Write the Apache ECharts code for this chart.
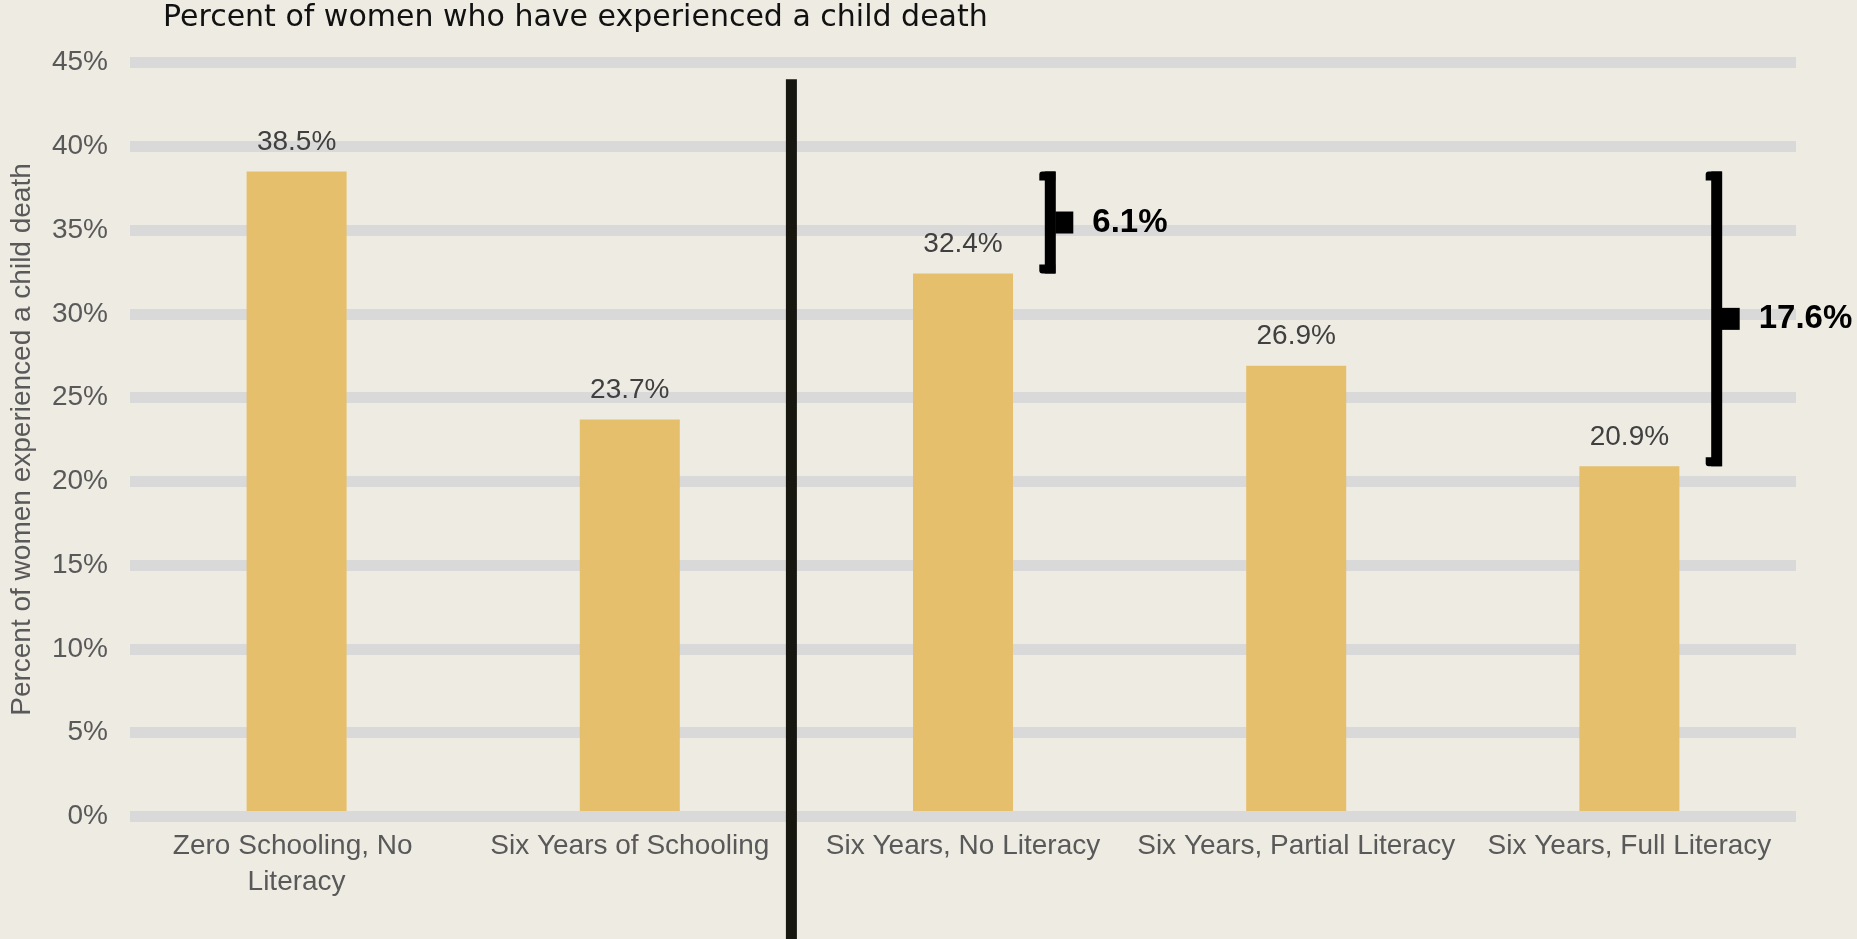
<!DOCTYPE html>
<html>
<head>
<meta charset="utf-8">
<title>Percent of women who have experienced a child death</title>
<script src="https://cdn.jsdelivr.net/npm/echarts@6/dist/echarts.min.js"></script>
<style>
  html, body { margin: 0; padding: 0; background: #EEEBE3; }
  #chart { width: 1857px; height: 939px; }
</style>
</head>
<body>
<div id="chart"></div>
<script>
// Schooling / literacy groups and the share of women who lost a child
const categories = [
  'Zero Schooling, No Literacy',
  'Six Years of Schooling',
  'Six Years, No Literacy',
  'Six Years, Partial Literacy',
  'Six Years, Full Literacy'
];
const childDeathPct = [38.5, 23.7, 32.4, 26.9, 20.9];

// Y axis range (percent)
const yMin = 0;
const yMax = 45;
const yStep = 5;

// Divider between the schooling groups and the literacy groups
const dividerAfterIndex = 1;
const dividerTopPct = 44;

// Gap brackets: [reference group, compared group]
const gapPairs = [[0, 2], [0, 4]];

const labelGrey = '#595959';
const barColor = '#E5BF6B';
const gridGrey = '#D9D9D9';

const bracketData = gapPairs.map(([from, to]) => [to, childDeathPct[from], childDeathPct[to]]);

const chart = echarts.init(document.getElementById('chart'));

chart.setOption({
  backgroundColor: '#EEEBE3',
  animation: false,
  title: {
    text: 'Percent of women who have experienced a child death',
    left: 163,
    top: 3,
    padding: 0,
    textStyle: {
      fontFamily: 'DejaVu Sans',
      fontSize: 30,
      fontWeight: 'normal',
      color: '#111111'
    }
  },
  grid: { left: 128, right: 61, top: 62.5, bottom: 122.5 },
  xAxis: {
    type: 'category',
    data: categories,
    z: 3,
    axisLine: { show: true, lineStyle: { color: gridGrey, width: 11, cap: 'butt' } },
    axisTick: { show: false },
    axisLabel: {
      interval: 0,
      fontFamily: 'Liberation Sans',
      fontSize: 28,
      lineHeight: 36,
      color: labelGrey,
      margin: 12,
      width: 332,
      overflow: 'break'
    }
  },
  yAxis: {
    type: 'value',
    min: yMin,
    max: yMax,
    interval: yStep,
    name: 'Percent of women experienced a child death',
    nameLocation: 'middle',
    nameGap: 94,
    nameTextStyle: { fontFamily: 'Liberation Sans', fontSize: 28, color: labelGrey },
    axisLine: { show: false },
    axisTick: { show: false },
    axisLabel: {
      formatter: '{value}%',
      fontFamily: 'Liberation Sans',
      fontSize: 28,
      color: labelGrey,
      margin: 22
    },
    splitLine: { show: true, lineStyle: { color: gridGrey, width: 11, cap: 'butt' } }
  },
  series: [
    {
      type: 'bar',
      data: childDeathPct,
      barWidth: 100,
      itemStyle: { color: barColor },
      label: {
        show: true,
        position: 'top',
        distance: 15,
        fontFamily: 'Liberation Sans',
        fontSize: 28,
        color: '#404040',
        formatter: p => p.value.toFixed(1) + '%'
      }
    },
    {
      // vertical divider line
      type: 'custom',
      clip: false,
      z: 5,
      data: [[dividerAfterIndex, dividerTopPct]],
      encode: { x: 0, y: 1 },
      renderItem: (params, api) => {
        const p = api.coord([api.value(0), api.value(1)]);
        const band = api.size([1, 0])[0];
        const x = p[0] + band * 0.485;
        return {
          type: 'rect',
          shape: { x: x - 5.5, y: p[1], width: 11, height: api.getHeight() - p[1] },
          style: { fill: '#17170F' }
        };
      }
    },
    {
      // gap brackets with the difference in percentage points
      type: 'custom',
      clip: false,
      z: 5,
      data: bracketData,
      encode: { x: 0, y: [1, 2] },
      renderItem: (params, api) => {
        const idx = api.value(0);
        const hi = api.value(1);
        const lo = api.value(2);
        const top = api.coord([idx, hi]);
        const bottom = api.coord([idx, lo]);
        const band = api.size([1, 0])[0];
        const x = top[0] + band * 0.262;
        const mid = (top[1] + bottom[1]) / 2;
        const fill = { fill: '#000000' };
        return {
          type: 'group',
          children: [
            { type: 'rect', shape: { x: x - 5.5, y: top[1], width: 11, height: bottom[1] - top[1] }, style: fill },
            { type: 'rect', shape: { x: x - 11, y: top[1], width: 16, height: 9, r: [3, 0, 0, 0] }, style: fill },
            { type: 'rect', shape: { x: x - 11, y: bottom[1] - 9, width: 16, height: 9, r: [0, 0, 0, 3] }, style: fill },
            { type: 'rect', shape: { x: x + 5, y: mid - 11, width: 18, height: 22 }, style: fill },
            {
              type: 'text',
              x: x + 42,
              y: mid,
              style: {
                text: (hi - lo).toFixed(1) + '%',
                fontFamily: 'Liberation Sans',
                fontWeight: 'bold',
                fontSize: 33,
                fill: '#000000',
                verticalAlign: 'middle',
                align: 'left'
              }
            }
          ]
        };
      }
    }
  ]
});
</script>
</body>
</html>
